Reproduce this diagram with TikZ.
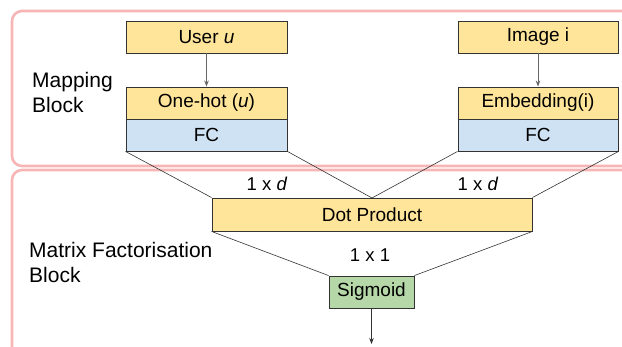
\documentclass[tikz,border=0pt]{standalone}
\usepackage{fontspec}
\setmainfont{Liberation Sans}
\usetikzlibrary{arrows.meta}
\definecolor{boxyellow}{HTML}{FFE599}
\definecolor{boxblue}{HTML}{CFE2F3}
\definecolor{boxgreen}{HTML}{B6D7A8}
\definecolor{blockpink}{HTML}{F7B5B5}
\definecolor{edgegray}{HTML}{333333}
\begin{document}
\begin{tikzpicture}[x=1pt,y=-1pt,
  box/.style={draw=edgegray,line width=0.9pt,inner sep=0pt,font=\fontsize{19}{21}\selectfont},
  yel/.style={box,fill=boxyellow},
  blu/.style={box,fill=boxblue},
  grn/.style={box,fill=boxgreen},
  block/.style={draw=blockpink,line width=2.6pt,rounded corners=10pt},
  blocklabel/.style={font=\fontsize{21}{25.5}\selectfont,align=left,anchor=north west,inner sep=0pt},
  dimlabel/.style={font=\fontsize{18.5}{20}\selectfont},
  conn/.style={draw=black!80,line width=0.6pt},
  garrow/.style={draw=gray!80!black,line width=0.8pt,-{Stealth[length=6pt,width=4.5pt]}},
  barrow/.style={draw=black!80,line width=0.8pt,-{Stealth[length=6pt,width=4.5pt]}}]
\useasboundingbox (0,0) rectangle (622,347);
\begin{scope}
\clip (0,0) rectangle (622,347);
\draw[block] (12,11) rectangle (640,166);
\draw[block] (12,170) rectangle (640,380);
\end{scope}
% labels of blocks
\node[blocklabel] (mapl) at (32,72) {Mapping\\Block};
\node[blocklabel] (mfl) at (29,242) {Matrix Factorisation\\Block};
% user side
\node[yel,minimum width=161pt,minimum height=32pt] (user) at (206.5,37) {User \textit{u}};
\node[yel,minimum width=161pt,minimum height=32pt] (onehot) at (206.5,103) {One-hot (\textit{u})};
\node[blu,minimum width=161pt,minimum height=32pt] (fcu) at (206.5,135) {FC};
% image side
\node[yel,minimum width=160pt,minimum height=32pt] (image) at (538,37) {Image i};
\node[yel,minimum width=160pt,minimum height=32pt] (emb) at (538,103) {Embedding(i)};
\node[blu,minimum width=160pt,minimum height=32pt] (fci) at (538,135) {FC};
% dot product and sigmoid
\node[yel,minimum width=320pt,minimum height=33pt] (dot) at (372,214.5) {Dot Product};
\node[grn,minimum width=85pt,minimum height=32pt] (sig) at (371.5,292) {Sigmoid};
\coordinate (out) at (371.5,344);
\coordinate (dottop) at (372,198);
% arrows
\draw[garrow] (user.south) -- (onehot.north);
\draw[garrow] (image.south) -- (emb.north);
\draw[barrow] (sig.south) -- (out);
% connectors
\draw[conn] (fcu.south west) -- (dot.north west);
\draw[conn] (fcu.south east) -- (dottop);
\draw[conn] (fci.south west) -- (dottop);
\draw[conn] (fci.south east) -- (dot.north east);
\draw[conn] (dot.south west) -- (sig.north west);
\draw[conn] (dot.south east) -- (sig.north east);
% dimension labels
\node[dimlabel] (d1) at (267,184) {1 x \textit{d}};
\node[dimlabel] (d2) at (478,184) {1 x \textit{d}};
\node[dimlabel] (d3) at (370,255) {1 x 1};
\end{tikzpicture}
\end{document}
